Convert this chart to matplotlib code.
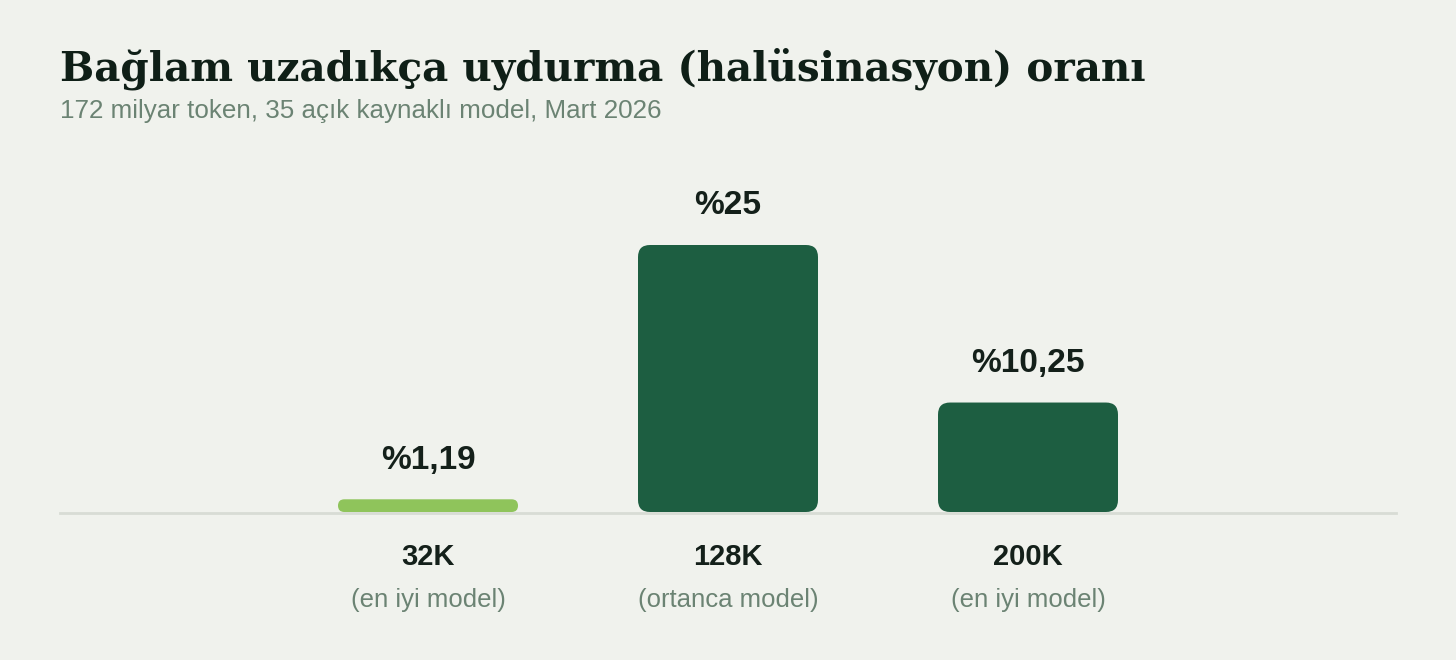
import matplotlib
matplotlib.use("Agg")
import matplotlib.pyplot as plt
from matplotlib.patches import FancyBboxPatch

# Data
contexts = ["32K", "128K", "200K"]
notes = ["(en iyi model)", "(ortanca model)", "(en iyi model)"]
rates = [1.19, 25, 10.25]
rate_labels = ["%1,19", "%25", "%10,25"]
bar_colors = ["#8fc45b", "#1d5e41", "#1d5e41"]

title = "Bağlam uzadıkça uydurma (halüsinasyon) oranı"
subtitle = "172 milyar token, 35 açık kaynaklı model, Mart 2026"

BG = "#f0f2ed"
W, H = 1456, 660

fig = plt.figure(figsize=(W / 100, H / 100), dpi=100, facecolor=BG)

# axes: x from 60 to 1396 px, baseline at y=512 px, top at 180 px
ax = fig.add_axes([60 / W, (H - 512) / H, 1336 / W, 332 / H])
ax.set_facecolor(BG)
px_per_x = 300.0
px_per_y = 267 / 25.0
ax.set_xlim(-368 / px_per_x, 2 + 368 / px_per_x)
ax.set_ylim(0, 332 / px_per_y)
ax.axis("off")

# baseline
ax.axhline(-0.1, color="#d8dcd5", lw=2, zorder=1, clip_on=False)

bar_w = 0.6
aspect = px_per_x / px_per_y
radius = 12 / px_per_x
for i, (v, c) in enumerate(zip(rates, bar_colors)):
    r = min(radius, v / aspect / 2)
    patch = FancyBboxPatch((i - bar_w / 2, 0), bar_w, v,
                           boxstyle=f"round,pad=0,rounding_size={r}",
                           mutation_aspect=aspect, fc=c, ec="none", zorder=2)
    ax.add_patch(patch)
    ax.annotate(rate_labels[i], (i, v), xytext=(0, 22), textcoords="offset points",
                ha="center", va="baseline", fontsize=24, fontweight="bold",
                color="#14201a", family="Liberation Sans")
    ax.annotate(contexts[i], (i, 0), xytext=(0, -32.5), textcoords="offset points",
                ha="center", va="center", fontsize=21, fontweight="bold",
                color="#14201a", family="Liberation Sans", annotation_clip=False)
    ax.annotate(notes[i], (i, 0), xytext=(0, -63.5), textcoords="offset points",
                ha="center", va="center", fontsize=18.5,
                color="#6b8373", family="Liberation Sans", annotation_clip=False)

fig.text(60 / W, 1 - 80 / H, title, ha="left", va="baseline", fontsize=29.2,
         fontweight="bold", family="DejaVu Serif", color="#0f1f17")
fig.text(60 / W, 1 - 118 / H, subtitle, ha="left", va="baseline", fontsize=18.7,
         family="Liberation Sans", color="#6b8373")

fig.savefig("out.png", dpi=100, facecolor=BG)
